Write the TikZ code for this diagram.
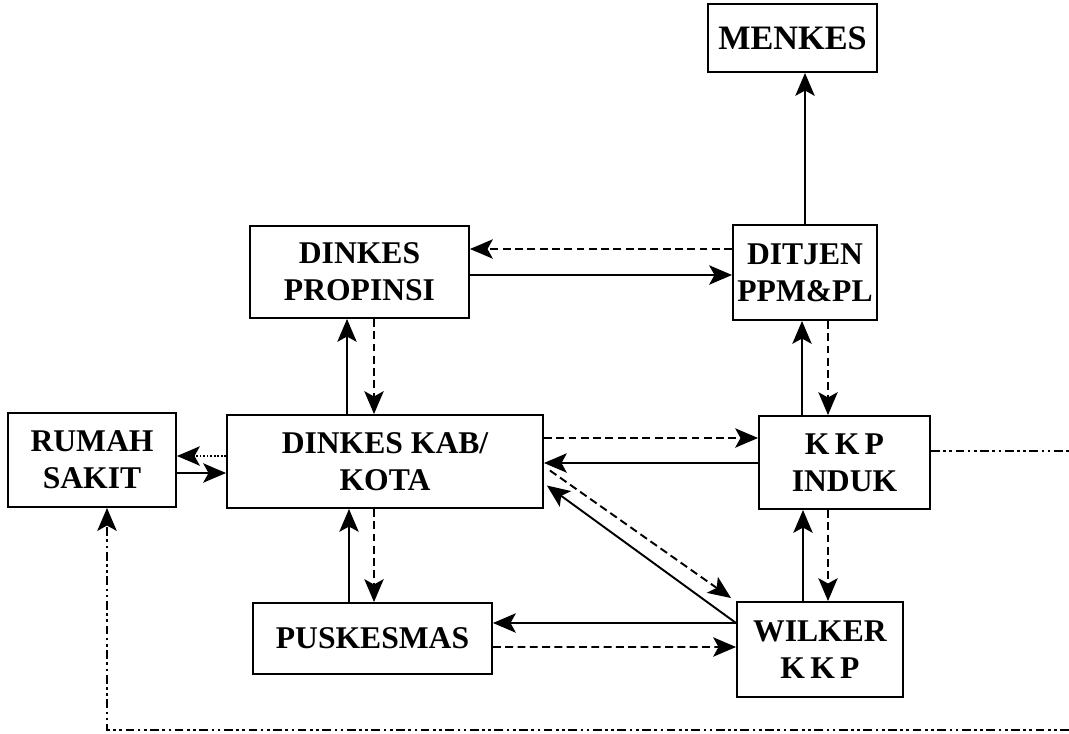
\documentclass[tikz,border=0pt]{standalone}
\usepackage{fontspec}
\setmainfont{Liberation Serif}
\usetikzlibrary{arrows.meta,calc}

\begin{document}
\begin{tikzpicture}[x=0.02cm,y=-0.02cm,line width=1.1pt,
  box/.style={draw,align=center,inner sep=2pt,font=\fontsize{18}{21}\selectfont\bfseries},
  arr/.style={-{Stealth[length=13pt,width=11pt,inset=3pt]}},
  dsh/.style={arr,dash pattern=on 4.5pt off 2.5pt},
  dtt/.style={arr,line width=1.2pt,dash pattern=on 1pt off 1pt},
  ddot/.style={line width=1.4pt,dash pattern=on 5pt off 2pt on 1.5pt off 2pt on 1.5pt off 2pt}]

\useasboundingbox (0,0) rectangle (1069,734);

% Boxes
\node[box,minimum width=3.38cm,minimum height=1.36cm,font=\fontsize{19.5}{24}\selectfont\bfseries] (menkes) at (792.5,38) {MENKES};
\node[box,minimum width=4.38cm,minimum height=1.84cm] (prop) at (359.5,272) {DINKES\\PROPINSI};
\node[box,minimum width=2.88cm,minimum height=1.9cm] (ditjen) at (805,272.5) {DITJEN\\PPM\&PL};
\node[box,minimum width=3.36cm,minimum height=1.88cm] (rs) at (92,460) {RUMAH\\SAKIT};
\node[box,minimum width=6.32cm,minimum height=1.86cm] (kab) at (385,461.5) {DINKES KAB/\\KOTA};
\node[box,minimum width=3.42cm,minimum height=1.86cm] (kkp) at (844.5,462.5) {K\,K\,P\\INDUK};
\node[box,minimum width=4.78cm,minimum height=1.42cm] (pusk) at (372.5,638.5) {PUSKESMAS};
\node[box,minimum width=3.32cm,minimum height=1.9cm] (wilker) at (820,649.5) {WILKER\\K\,K\,P};

% Up and down
\draw[arr] (ditjen.north) -- (ditjen.north |- menkes.south);
\draw[arr] ($(kab.north)+(-38,0)$) -- ($(prop.south)+(-12.5,0)$);
\draw[dsh] ($(prop.south)+(14.5,0)$) -- ($(kab.north)+(-11,0)$);
\draw[arr] ($(pusk.north)+(-23.5,0)$) -- ($(kab.south)+(-36,0)$);
\draw[dsh] ($(kab.south)+(-11,0)$) -- ($(pusk.north)+(1.5,0)$);
\draw[arr] ($(kkp.north)+(-42.5,0)$) -- ($(ditjen.south)+(-3,0)$);
\draw[dsh] ($(ditjen.south)+(23,0)$) -- ($(kkp.north)+(-16.5,0)$);
\draw[arr] ($(wilker.north)+(-17,0)$) -- ($(kkp.south)+(-41.5,0)$);
\draw[dsh] ($(kkp.south)+(-16.5,0)$) -- ($(wilker.north)+(8,0)$);

% Left and right
\draw[dsh] ($(ditjen.west)+(0,-23.5)$) -- ($(prop.east)+(0,-23)$);
\draw[arr] ($(prop.east)+(0,3)$) -- ($(ditjen.west)+(0,2.5)$);
\draw[dtt] ($(kab.west)+(0,-5.5)$) -- ($(rs.east)+(0,-4)$);
\draw[arr] ($(rs.east)+(0,13)$) -- ($(kab.west)+(0,11.5)$);
\draw[dsh] ($(kab.east)+(0,-23.5)$) -- ($(kkp.west)+(0,-24.5)$);
\draw[arr] ($(kkp.west)+(0,0.5)$) -- ($(kab.east)+(0,1.5)$);
\draw[arr] ($(wilker.west)+(0,-26.5)$) -- ($(pusk.east)+(0,-15.5)$);
\draw[dsh] ($(pusk.east)+(0,8.5)$) -- ($(wilker.west)+(0,-2.5)$);

% Across
\draw[arr] ($(wilker.west)+(0,-26.5)$) -- ($(kab.east)+(3,24)$);
\draw[dsh] ($(kab.east)+(6,9)$) -- ($(wilker.north west)+(-5,-3)$);

% Round the outside
\coordinate (rgt) at (1069,451);
\coordinate (btm) at (1069,730);
\coordinate (crn) at (107,730);
\draw[ddot] ($(kkp.east)+(0,-11.5)$) -- (rgt);
\draw[ddot,arr] (btm) -- (crn) -- (crn |- rs.south);

\end{tikzpicture}
\end{document}
